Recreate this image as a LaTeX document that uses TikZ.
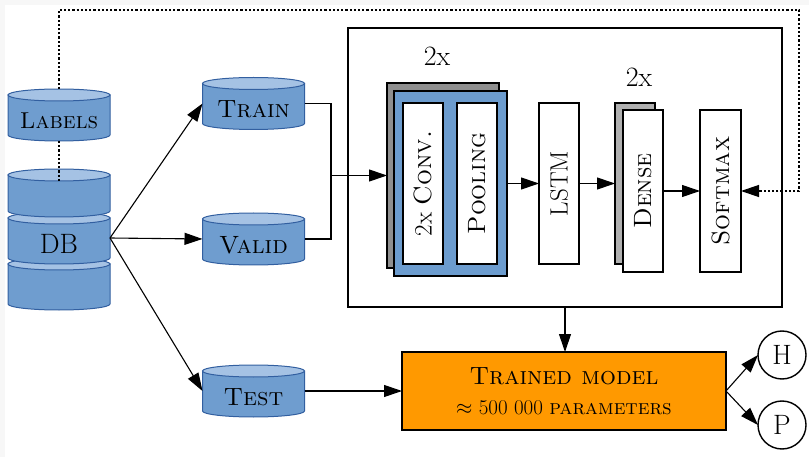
\RequirePackage{fix-cm}
\documentclass[tikz,border=0pt]{standalone}
\usepackage{graphicx}
\usetikzlibrary{arrows.meta,calc,backgrounds}
\definecolor{cylfill}{RGB}{111,157,207}
\definecolor{cyltopc}{RGB}{165,194,228}
\definecolor{cylline}{RGB}{50,95,160}
\definecolor{boxblue}{RGB}{108,156,206}
\definecolor{graybox}{RGB}{143,143,143}
\definecolor{lgraybox}{RGB}{176,176,176}
\definecolor{orangec}{RGB}{255,153,0}
\newcommand\cyltext[1]{\raisebox{-6pt}[\height][\depth]{#1}}
\newcommand\drawcyl[1]{%
  \filldraw[cylbody] ($(#1.north west)+(0,-6pt)$) -- ($(#1.south west)+(0,6pt)$)
    arc[start angle=180,end angle=360,x radius=51pt,y radius=6pt]
    -- ($(#1.north east)+(0,-6pt)$) -- cycle;
  \filldraw[cyltop] ($(#1.north)+(0,-6pt)$) ellipse[x radius=51pt,y radius=6pt];}
\begin{document}
\begin{tikzpicture}[x=1pt,y=-1pt,
  cyl/.style={minimum width=102pt, minimum height=52pt, inner sep=0pt, outer sep=0pt, font=\fontsize{25}{30}\selectfont},
  cylbody/.style={fill=cylfill, draw=cylline, line width=1pt},
  cyltop/.style={fill=cyltopc, draw=cylline, line width=1pt},
  arr/.style={line width=1.1pt, -{Triangle[length=18pt,width=12pt]}},
  ln/.style={line width=1.1pt},
  dotline/.style={line width=1.3pt, dash pattern=on 2.2pt off 2pt},
  dotarr/.style={dotline, -{Triangle[length=18pt,width=12pt]}},
  layerbox/.style={draw, line width=1.6pt, fill=white, minimum width=40pt, minimum height=161pt, inner sep=0pt, outer sep=0pt, font=\fontsize{25}{30}\selectfont},
  backbox/.style={draw, line width=1.6pt, inner sep=0pt, outer sep=0pt},
  lbl/.style={inner sep=0pt, font=\fontsize{28}{32}\selectfont},
  outbox/.style={draw, line width=1.2pt, inner sep=0pt, outer sep=0pt, minimum width=434pt, minimum height=279pt},
  modelbox/.style={draw, line width=1.6pt, fill=orangec, minimum width=324pt, minimum height=78pt, inner sep=0pt, outer sep=0pt, align=center, font=\fontsize{25}{29}\selectfont},
  outc/.style={circle, draw, line width=1.4pt, minimum size=48pt, inner sep=0pt, outer sep=0pt, font=\fontsize{28}{32}\selectfont}
]
\useasboundingbox (0,0) rectangle (809,457);
\fill[black!3] (0,0) rectangle (5,457);
\fill[black!3] (0,0) rectangle (809,5);

% cylinders
\node[cyl, font=\fontsize{23}{28}\selectfont] (labels) at (59,115) {\cyltext{\textsc{Labels}}};
\node[cyl, minimum height=48pt] (db1) at (59,193) {};
\node[cyl, font=\fontsize{28}{32}\selectfont] (db2) at (59,238) {\cyltext{DB}};
\node[cyl] (db3) at (59,284) {};
\node[cyl] (train) at (253.5,103.5) {\cyltext{\textsc{Train}}};
\node[cyl] (valid) at (253.5,239) {\cyltext{\textsc{Valid}}};
\node[cyl] (test) at (253.5,391) {\cyltext{\textsc{Test}}};
\begin{pgfonlayer}{background}
  \drawcyl{db3}
  \drawcyl{db2}
  \drawcyl{db1}
  \drawcyl{labels}
  \drawcyl{train}
  \drawcyl{valid}
  \drawcyl{test}
\end{pgfonlayer}

% network box
\node[outbox] (outer) at (565,167.5) {};
\node[lbl] (rep1) at (437,56) {2x};
\node[lbl] (rep2) at (639,77) {2x};
\node[backbox, fill=graybox, minimum width=112pt, minimum height=185pt] (gback) at (443,175.5) {};
\node[backbox, fill=boxblue, minimum width=113pt, minimum height=185pt] (bluebox) at (450.5,183.5) {};
\node[layerbox] (conv) at (423,183.5) {\rotatebox{90}{2x \textsc{Conv.}}};
\node[layerbox] (pool) at (477,183.5) {\rotatebox{90}{\textsc{Pooling}}};
\node[layerbox] (lstm) at (559,183.5) {\rotatebox{90}{LSTM}};
\node[backbox, fill=lgraybox, minimum width=40pt, minimum height=161pt] (dback) at (635,183.5) {};
\node[layerbox, minimum height=162pt] (dense) at (643,191) {\rotatebox{90}{\textsc{Dense}}};
\node[layerbox, minimum width=41pt, minimum height=162pt] (softmax) at (720.5,191) {\rotatebox{90}{\textsc{Softmax}}};

% trained model and outputs
\node[modelbox] (model) at (564,391) {\textsc{Trained model}\\[1pt]{\fontsize{21}{24}\selectfont $\approx$ 500 000 \textsc{parameters}}};
\node[outc] (H) at (782,355) {H};
\node[outc] (P) at (782,425) {P};

% connectors
\coordinate (merge) at (331,175.5);
\coordinate (tr) at (799,10);
\draw[dotarr] (labels.north) |- (tr) |- (softmax.east);
\draw[dotline] (labels.south) -- ($(db1.north)+(0,-13pt)$);
\draw[arr] (db2.east) -- (train.west);
\draw[arr] (db2.east) -- (valid.west);
\draw[arr] (db2.east) -- (test.west);
\draw[ln] (train.east) -| (merge);
\draw[ln] (valid.east) -| (merge);
\draw[arr] (merge) -- (gback.west);
\draw[arr] (bluebox.east) -- (lstm.west);
\draw[arr] (lstm.east) -- (dback.west);
\draw[arr] (dense.east) -- (softmax.west);
\draw[arr] (outer.south) -- (outer.south |- model.north);
\draw[arr] (test.east) -- (model.west);
\draw[arr] (model.east) -- (H.west);
\draw[arr] (model.east) -- (P.west);
\end{tikzpicture}
\end{document}
